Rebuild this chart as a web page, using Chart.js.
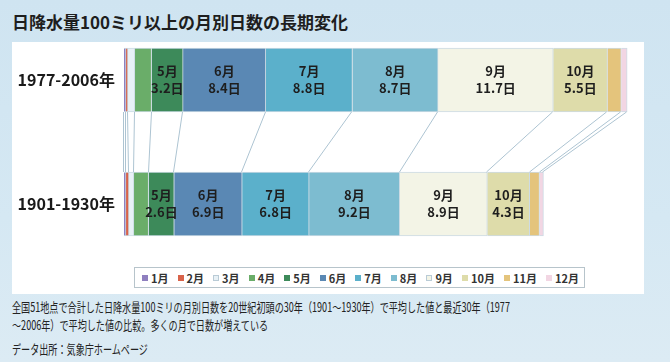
<!DOCTYPE html>
<html lang="ja">
<head>
<meta charset="utf-8">
<title>日降水量100ミリ以上の月別日数の長期変化</title>
<script src="https://cdn.jsdelivr.net/npm/chart.js@4.4.1/dist/chart.umd.min.js"></script>
<style>
  html, body { margin: 0; padding: 0; }
  body {
    width: 670px; height: 362px; overflow: hidden; position: relative;
    background: linear-gradient(180deg, #cfe4f1 0%, #d5e8f3 60%, #dcebf4 100%);
    font-family: 'Noto Sans CJK JP', sans-serif; color: #222;
  }
  #title { position: absolute; left: 12px; top: 10px; font-size: 17px; font-weight: bold; line-height: 24px; white-space: nowrap; color: #1e1e1e; }
  #panel { position: absolute; left: 12px; top: 42px; width: 632px; height: 252px; background: #fff; }
  #chart-wrap { position: absolute; left: 12px; top: 42px; width: 632px; height: 252px; }
  #legend {
    position: absolute; left: 134px; top: 267px; width: 451px; height: 21px;
    box-sizing: border-box; border: 1px solid #b7c4cb; background: #fff;
    display: flex; align-items: center; justify-content: space-between;
    padding: 0 5px 0 7px; font-size: 11px; font-weight: bold; color: #333;
  }
  #legend .item { display: flex; align-items: center; line-height: 14px; }
  #legend .item i { display: inline-block; width: 6px; height: 6px; margin-right: 3px; box-sizing: border-box; }
  .note { position: absolute; left: 12px; font-size: 13px; line-height: 16px; white-space: nowrap; transform-origin: left center; color: #222; }
</style>
</head>
<body>
<div id="title">日降水量100ミリ以上の月別日数の長期変化</div>
<div id="panel"></div>
<div id="chart-wrap"><canvas id="rainChart" width="632" height="252"></canvas></div>
<div id="legend"></div>
<div class="note" style="top:299px">全国51地点で合計した日降水量100ミリの月別日数を20世紀初頭の30年（1901～1930年）で平均した値と最近30年（1977</div>
<div class="note" style="top:317px">～2006年）で平均した値の比較。多くの月で日数が増えている</div>
<div class="note" style="top:341px">データ出所：気象庁ホームページ</div>

<script>
const months = ['1月', '2月', '3月', '4月', '5月', '6月', '7月', '8月', '9月', '10月', '11月', '12月'];
const periods = ['1977-2006年', '1901-1930年'];
// days per month with 100mm+ daily rain (30-year averages)
const recentDays = [0.2, 0.2, 0.7, 1.7, 3.2, 8.4, 8.8, 8.7, 11.7, 5.5, 1.4, 0.6];
const earlyDays  = [0.2, 0.3, 0.5, 1.5, 2.6, 6.9, 6.8, 9.2, 8.9, 4.3, 1.0, 0.4];
const monthColors = ['#8f7fbf', '#d9634a', '#e8f1f6', '#6aad69', '#3d8a5a', '#5a88b4',
                     '#5bb0cb', '#7dbcd0', '#f3f4e6', '#dedcaa', '#e4c47c', '#f2d6e3'];

Chart.defaults.font.family = '"Noto Sans CJK JP", sans-serif';

// labels inside the wider segments: month + days
const segmentLabels = {
  id: 'segmentLabels',
  afterDatasetsDraw(chart) {
    const ctx = chart.ctx;
    ctx.save();
    ctx.font = 'bold 13px "Noto Sans CJK JP"';
    ctx.fillStyle = '#1e1e1e';
    ctx.textAlign = 'center';
    ctx.textBaseline = 'middle';
    chart.data.datasets.forEach((ds, i) => {
      chart.getDatasetMeta(i).data.forEach((bar, j) => {
        const v = ds.data[j];
        if (v < 2) return;
        const cx = (bar.x + bar.base) / 2;
        ctx.fillText(ds.label, cx, bar.y - 8.5);
        ctx.fillText(v.toFixed(1) + '日', cx, bar.y + 8.5);
      });
    });
    ctx.restore();
  }
};

// excel style series lines between the two stacked bars
const seriesLines = {
  id: 'seriesLines',
  afterDatasetsDraw(chart) {
    const ctx = chart.ctx;
    const metas = chart.data.datasets.map((d, i) => chart.getDatasetMeta(i));
    const topBar = metas[0].data[0];
    const lowBar = metas[0].data[1];
    const y0 = topBar.y + topBar.height / 2;
    const y1 = lowBar.y - lowBar.height / 2;
    const pairs = [[topBar.base, lowBar.base]].concat(metas.map(m => [m.data[0].x, m.data[1].x]));
    ctx.save();
    ctx.strokeStyle = '#adc4d2';
    ctx.lineWidth = 1;
    pairs.forEach(([a, b]) => {
      ctx.beginPath();
      ctx.moveTo(Math.round(a) - 0.5, y0);
      ctx.lineTo(Math.round(b) - 0.5, y1);
      ctx.stroke();
    });
    ctx.restore();
  }
};

const chart = new Chart(document.getElementById('rainChart'), {
  type: 'bar',
  data: {
    labels: periods,
    datasets: months.map((m, i) => ({
      label: m,
      data: [recentDays[i], earlyDays[i]],
      backgroundColor: monthColors[i],
      borderColor: '#cddbe4',
      borderWidth: { top: 1, bottom: 1, left: 0, right: 1 },
      borderSkipped: false,
      barThickness: 64,
      clip: false
    }))
  },
  options: {
    indexAxis: 'y',
    responsive: false,
    animation: false,
    layout: { padding: { top: 38, bottom: 90, left: 0, right: 8 } },
    plugins: {
      legend: { display: false },
      tooltip: { enabled: false }
    },
    scales: {
      x: { stacked: true, display: false, min: 0, max: 52 },
      y: {
        stacked: true,
        offset: false,
        grid: { display: false, drawTicks: false },
        border: { display: false },
        ticks: { color: '#1a1a1a', padding: 9, font: { size: 16, weight: 'bold' } },
        afterFit(scale) { scale.width = 112; }
      }
    }
  },
  plugins: [seriesLines, segmentLabels]
});

// html legend built from the chart datasets
const legendEl = document.getElementById('legend');
legendEl.innerHTML = chart.data.datasets.map(ds => `
  <span class="item"><i style="background:${ds.backgroundColor};border:1px solid ${ds.backgroundColor === '#e8f1f6' || ds.backgroundColor === '#f3f4e6' ? '#b9cbd6' : ds.backgroundColor}"></i>${ds.label}</span>
`).join('');

// footnote font is condensed in the original
const notes = document.querySelectorAll('.note');
const squeeze = 498 / notes[0].scrollWidth;
notes.forEach(n => { n.style.transform = `scaleX(${squeeze})`; });
</script>
</body>
</html>
